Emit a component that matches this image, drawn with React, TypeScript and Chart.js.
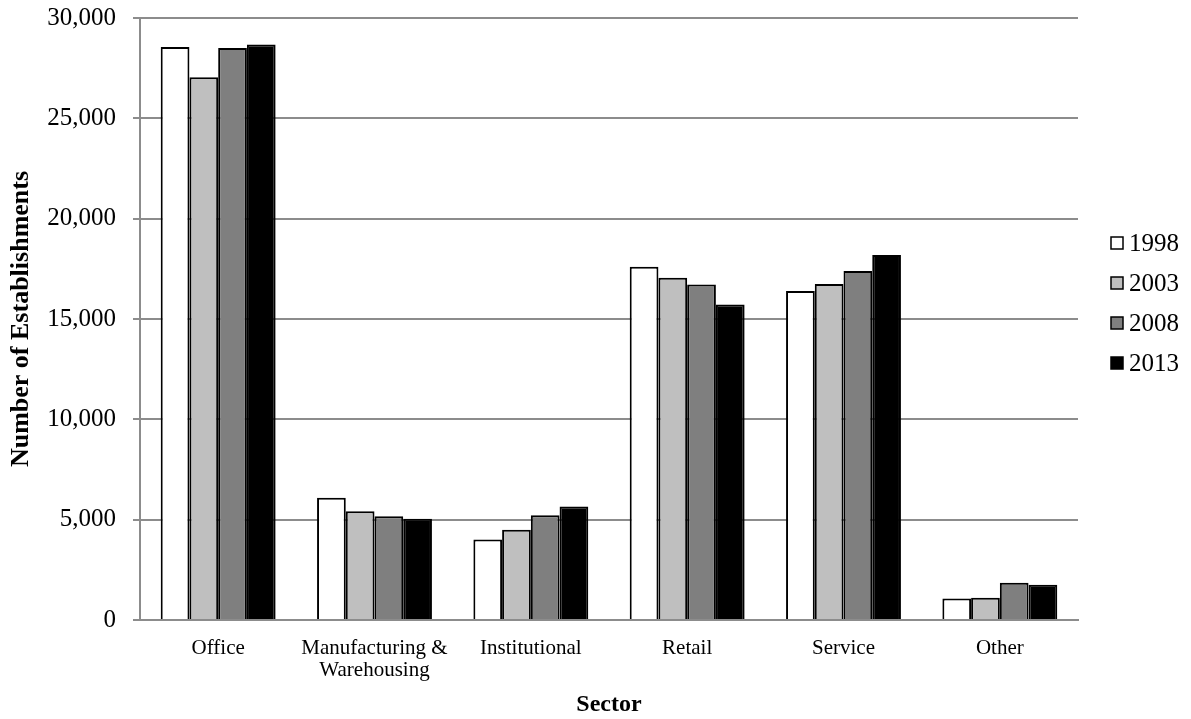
import React, { useEffect, useRef } from "react";
import { Chart, registerables } from "chart.js";

Chart.register(...registerables);

const categories: (string | string[])[] = [
  "Office",
  ["Manufacturing &", "Warehousing"],
  "Institutional",
  "Retail",
  "Service",
  "Other",
];
const years = ["1998", "2003", "2008", "2013"];
const v1998 = [28550, 6090, 4010, 17600, 16400, 1070];
const v2003 = [27050, 5420, 4500, 17060, 16740, 1110];
const v2008 = [28500, 5170, 5220, 16720, 17390, 1860];
const v2013 = [28680, 5050, 5650, 15720, 18190, 1760];
const fills = ["#ffffff", "#bfbfbf", "#7f7f7f", "#000000"];

const serif = "'Liberation Serif', 'Times New Roman', serif";

const sideLegend = {
  id: "sideLegend",
  afterDraw(chart: any) {
    const ctx = chart.ctx;
    const area = chart.chartArea;
    const x0 = area.right + 33;
    const step = 40;
    const yStart = area.top + 225;
    ctx.save();
    ctx.font = `25px ${serif}`;
    ctx.textBaseline = "middle";
    ctx.textAlign = "left";
    chart.data.datasets.forEach((ds: any, i: number) => {
      const y = yStart + i * step;
      ctx.fillStyle = ds.backgroundColor;
      ctx.fillRect(x0, y - 6, 12, 12);
      ctx.lineWidth = 1.5;
      ctx.strokeStyle = "#000";
      ctx.strokeRect(x0, y - 6, 12, 12);
      ctx.fillStyle = "#000";
      ctx.fillText(ds.label, x0 + 18, y + 1);
    });
    ctx.restore();
  },
};

export default function App() {
  const ref = useRef<HTMLCanvasElement | null>(null);
  useEffect(() => {
    if (!ref.current) return;
    const series = [v1998, v2003, v2008, v2013];
    const chart = new Chart(ref.current, {
      type: "bar",
      data: {
        labels: categories,
        datasets: series.map((d, i) => ({
          label: years[i],
          data: d,
          backgroundColor: fills[i],
          borderColor: "#000000",
          borderWidth: 2,
          barPercentage: 1,
          categoryPercentage: 0.735,
        })),
      },
      plugins: [sideLegend],
      options: {
        animation: false,
        responsive: false,
        maintainAspectRatio: false,
        layout: { padding: { top: 0, right: 113, bottom: 0, left: 0 } },
        plugins: {
          tooltip: { enabled: false },
          legend: { display: false },
        },
        scales: {
          x: {
            grid: { display: false, drawTicks: false },
            border: { color: "#8c8c8c", width: 2 },
            ticks: {
              color: "#000",
              font: { family: serif, size: 21, lineHeight: 1.05 },
              padding: 17,
              maxRotation: 0,
              minRotation: 0,
              autoSkip: false,
            },
            title: {
              display: true,
              text: "Sector",
              color: "#000",
              font: { family: serif, size: 24, weight: "bold" },
              padding: { top: 0, bottom: 0 },
            },
            afterFit: (scale: any) => {
              scale.height = 99;
            },
          },
          y: {
            min: 0,
            max: 30000,
            ticks: {
              stepSize: 5000,
              color: "#000",
              font: { family: serif, size: 25 },
              padding: 17,
              callback: (v: any) => Number(v).toLocaleString("en-US"),
            },
            grid: {
              color: "#8c8c8c",
              lineWidth: 2,
              drawTicks: true,
              tickLength: 7,
            },
            border: { color: "#8c8c8c", width: 2 },
            title: {
              display: true,
              text: "Number of Establishments",
              color: "#000",
              font: { family: serif, size: 26, weight: "bold" },
              padding: { top: 6, bottom: 0 },
            },
            afterFit: (scale: any) => {
              scale.width = 140;
              scale.paddingTop = 18;
            },
          },
        },
      },
    });
    return () => chart.destroy();
  }, []);
  return (
    <div style={{ position: "absolute", left: 0, top: 0, width: 1191, height: 719, background: "#fff" }}>
      <canvas ref={ref} width={1191} height={719} style={{ display: "block" }} />
    </div>
  );
}
